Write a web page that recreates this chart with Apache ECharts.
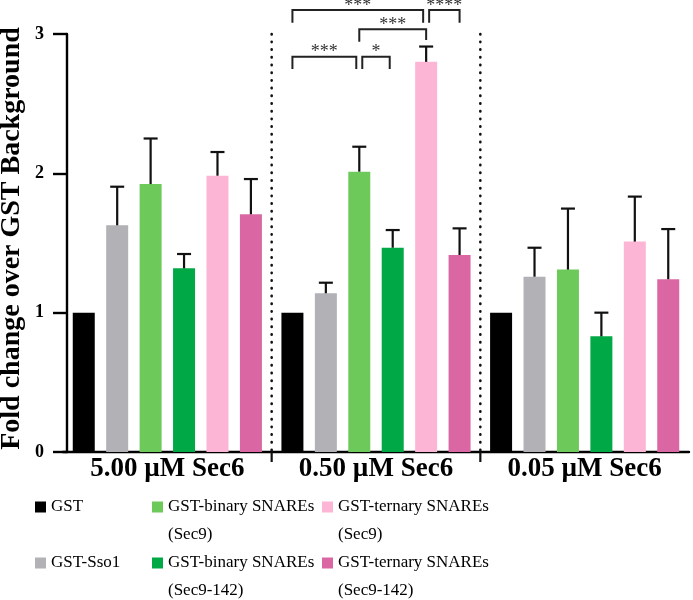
<!DOCTYPE html>
<html><head><meta charset="utf-8">
<script src="https://cdn.jsdelivr.net/npm/echarts@6/dist/echarts.min.js"></script>
<style>html,body{margin:0;padding:0;background:#fff}#c{width:693px;height:600px}</style>
</head><body><div id="c"></div>
<script>
// ---------------- data ----------------
const categories = ['5.00 µM Sec6', '0.50 µM Sec6', '0.05 µM Sec6'];
const seriesNames = [
  'GST',
  'GST-Sso1',
  'GST-binary SNAREs (Sec9)',
  'GST-binary SNAREs (Sec9-142)',
  'GST-ternary SNAREs (Sec9)',
  'GST-ternary SNAREs (Sec9-142)'
];
const gstMean        = [1.000, 1.000, 1.000];
const gstErr         = [0, 0, 0];
const sso1Mean       = [1.627, 1.139, 1.258];
const sso1Err        = [0.277, 0.076, 0.208];
const binSec9Mean    = [1.923, 2.012, 1.309];
const binSec9Err     = [0.327, 0.179, 0.438];
const bin142Mean     = [1.318, 1.466, 0.830];
const bin142Err      = [0.103, 0.127, 0.170];
const ternSec9Mean   = [1.983, 2.800, 1.510];
const ternSec9Err    = [0.170, 0.110, 0.323];
const tern142Mean    = [1.706, 1.414, 1.240];
const tern142Err     = [0.253, 0.191, 0.360];
const yTicks = [0, 1, 2, 3];
// significance brackets (group index, from series, to series, heights in y units)
const sigBrackets = [
  {group: 1, from: 0, to: 4, y: 3.172, yFrom: 3.081, yTo: 3.081, label: '***'},
  {group: 1, from: 4, to: 5, y: 3.172, yFrom: 3.081, yTo: 3.081, label: '****'},
  {group: 1, from: 2, to: 4, y: 3.034, yFrom: 2.945, yTo: 2.957, label: '***'},
  {group: 1, from: 0, to: 2, y: 2.837, yFrom: 2.749, yTo: 2.749, label: '***'},
  {group: 1, from: 2, to: 3, y: 2.837, yFrom: 2.749, yTo: 2.749, label: '*'}
];

const means = [gstMean, sso1Mean, binSec9Mean, bin142Mean, ternSec9Mean, tern142Mean];
const errs  = [gstErr, sso1Err, binSec9Err, bin142Err, ternSec9Err, tern142Err];

// ---------------- style ----------------
const colors = ['#000000', '#b1b1b6', '#6ec95b', '#00a846', '#fdb5d5', '#da67a3'];
const BAR_W = 0.1054;   // fraction of band
const GAP = 0.52;       // fraction of bar width
const bracketTrim = [[0, 3], [3, 0], [0, 0], [0, 3], [3, 3]];
const SERIF = '"Liberation Serif", "Times New Roman", serif';

const chart = echarts.init(document.getElementById('c'), null, {renderer: 'canvas'});

function step(api) { return api.size([1, 0])[0] * BAR_W * (1 + GAP); }

const barSeries = seriesNames.map((n, i) => ({
  type: 'bar', name: n, data: means[i],
  barWidth: (BAR_W * 100) + '%', barGap: (GAP * 100) + '%',
  itemStyle: {color: colors[i]}, animation: false, z: 2
}));

const errData = [];
means.forEach((m, s) => m.forEach((v, c) => { if (errs[s][c] > 0) errData.push([c, v, errs[s][c], s]); }));

const errSeries = {
  type: 'custom', data: errData, encode: {x: 0, y: 1}, z: 3, animation: false, clip: false,
  renderItem: function (params, api) {
    const st = step(api);
    const x = api.coord([api.value(0), 0])[0] + (api.value(3) - 2.5) * st;
    const yb = api.coord([api.value(0), api.value(1)])[1];
    const yt = api.coord([api.value(0), api.value(1) + api.value(2)])[1];
    const s = {stroke: '#111', lineWidth: 2.2};
    return {type: 'group', children: [
      {type: 'line', shape: {x1: x, y1: yb, x2: x, y2: yt}, style: s},
      {type: 'line', shape: {x1: x - 7, y1: yt, x2: x + 7, y2: yt}, style: s}
    ]};
  }
};

const sepSeries = {
  type: 'custom', data: [[0, 0], [1, 0]], encode: {x: 0, y: 1}, z: 1, animation: false, clip: false,
  renderItem: function (params, api) {
    const band = api.size([1, 0])[0];
    const x = api.coord([api.value(0), 0])[0] + band / 2;
    const y0 = api.coord([0, yTicks[0]])[1];
    const y1 = api.coord([0, yTicks[yTicks.length - 1]])[1];
    return {type: 'group', children: [
      {type: 'line', shape: {x1: x, y1: y1, x2: x, y2: y0}, style: {stroke: '#111', lineWidth: 2.6, lineDash: [0.4, 7.3], lineCap: 'round'}},
      {type: 'line', shape: {x1: x, y1: y0, x2: x, y2: y0 + 10}, style: {stroke: '#111', lineWidth: 2.2}}
    ]};
  }
};

const sigSeries = {
  type: 'custom', data: sigBrackets.map(b => [b.group, b.y]), encode: {x: 0, y: 1}, z: 4, animation: false, clip: false,
  renderItem: function (params, api) {
    const b = sigBrackets[params.dataIndex];
    const tr = bracketTrim[params.dataIndex];
    const st = step(api);
    const cx = api.coord([b.group, 0])[0];
    const x1 = cx + (b.from - 2.5) * st + tr[0];
    const x2 = cx + (b.to - 2.5) * st - tr[1];
    const yl = api.coord([b.group, b.y])[1];
    const ya = api.coord([b.group, b.yFrom])[1];
    const yb = api.coord([b.group, b.yTo])[1];
    return {type: 'group', children: [
      {type: 'polyline', shape: {points: [[x1, ya], [x1, yl], [x2, yl], [x2, yb]]}, style: {stroke: '#222', lineWidth: 2, fill: null}},
      {type: 'text', style: {text: b.label, x: (x1 + x2) / 2, y: yl - 4, align: 'center', verticalAlign: 'middle', font: '18px ' + SERIF, fill: '#333'}}
    ]};
  }
};

const legendLeft = [35, 152, 322];
const legendRowY = [507, 563];
const legends = seriesNames.map((n, i) => {
  const col = Math.floor(i / 2), row = i % 2;
  const twoLine = n.indexOf(' (') >= 0;
  return {
    data: [n], left: legendLeft[col], top: legendRowY[row] - (twoLine ? 42 : 14),
    orient: 'vertical', padding: 0, itemWidth: 11, itemHeight: 11, icon: 'rect', itemGap: 0,
    selectedMode: false,
    formatter: nm => (nm.indexOf(' (') >= 0 ? '\n' + nm.replace(' (', '\n(') : nm),
    textStyle: {fontFamily: SERIF, fontSize: 17, color: '#000', lineHeight: 28}
  };
});

chart.setOption({
  animation: false,
  backgroundColor: '#fff',
  grid: {left: 63, right: 4, top: 34, bottom: 148, containLabel: false, outerBoundsMode: 'none'},
  legend: legends,
  xAxis: {
    type: 'category', data: categories,
    axisLine: {lineStyle: {color: '#000', width: 2.4}},
    axisTick: {show: false},
    axisLabel: {fontFamily: SERIF, fontWeight: 'bold', fontSize: 27, color: '#000', margin: 4},
    splitLine: {show: false}
  },
  yAxis: {
    type: 'value', min: yTicks[0], max: yTicks[yTicks.length - 1], interval: 1, offset: -4,
    name: 'Fold change over GST Background', nameLocation: 'middle', nameGap: 41, nameRotate: 90,
    nameMoveOverlap: false,
    nameTextStyle: {fontFamily: SERIF, fontWeight: 'bold', fontSize: 28, color: '#000', padding: [0, 0, 0, 9]},
    axisLine: {show: true, lineStyle: {color: '#000', width: 2.4}},
    axisTick: {show: true, length: 14, lineStyle: {color: '#000', width: 2.4}},
    axisLabel: {fontFamily: SERIF, fontWeight: 'bold', fontSize: 18, color: '#000', margin: 23},
    splitLine: {show: false}
  },
  series: barSeries.concat([errSeries, sepSeries, sigSeries])
});
</script></body></html>
